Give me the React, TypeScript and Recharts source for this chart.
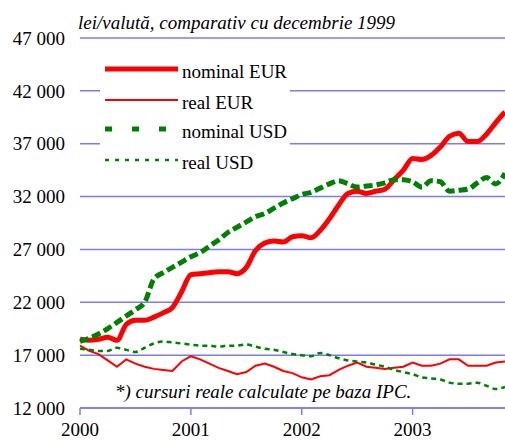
import { LineChart, Line, XAxis, YAxis, CartesianGrid, Legend } from 'recharts';

// monthly data, Jan 2000 - Nov 2003
const months = [
  '2000-01', '2000-02', '2000-03', '2000-04', '2000-05', '2000-06', '2000-07', '2000-08', '2000-09', '2000-10', '2000-11', '2000-12',
  '2001-01', '2001-02', '2001-03', '2001-04', '2001-05', '2001-06', '2001-07', '2001-08', '2001-09', '2001-10', '2001-11', '2001-12',
  '2002-01', '2002-02', '2002-03', '2002-04', '2002-05', '2002-06', '2002-07', '2002-08', '2002-09', '2002-10', '2002-11', '2002-12',
  '2003-01', '2003-02', '2003-03', '2003-04', '2003-05', '2003-06', '2003-07', '2003-08', '2003-09', '2003-10', '2003-11',
];

const nominalEur = [
  18500, 18400, 18500, 18700, 18400, 19900, 20300, 20300, 20600, 21000, 21500, 23000,
  24600, 24700, 24800, 24900, 24900, 24700, 25300, 26900, 27600, 27800, 27700, 28200,
  28300, 28100, 28800, 29900, 31200, 32300, 32500, 32300, 32500, 32700, 33600, 34500,
  35600, 35500, 35900, 36700, 37700, 38000, 37200, 37200, 37900, 39000, 40000,
];

const realEur = [
  17900, 17400, 17100, 16500, 15900, 16600, 16200, 15900, 15700, 15600, 15500, 16400,
  16900, 16600, 16200, 15800, 15500, 15200, 15400, 16000, 16200, 15900, 15500, 15300,
  14900, 14700, 15000, 15100, 15600, 16000, 16300, 15900, 15800, 15700, 15800, 15900,
  16300, 16000, 16000, 16200, 16600, 16600, 16000, 16000, 16000, 16300, 16400,
];

const nominalUsd = [
  18300, 18600, 19000, 19500, 20100, 20700, 21300, 22000, 24200, 24800, 25300, 25800,
  26300, 26700, 27300, 27900, 28600, 29100, 29600, 30100, 30400, 30900, 31400, 31800,
  32200, 32400, 32800, 33200, 33500, 33200, 32900, 33000, 33100, 33300, 33600, 33600,
  33400, 32900, 33500, 33400, 32500, 32600, 32700, 33300, 33800, 33200, 34200,
];

const realUsd = [
  17600, 17500, 17400, 17400, 17700, 17500, 17300, 17700, 18100, 18300, 18200, 18100,
  18000, 17900, 17900, 17800, 17900, 17900, 18000, 17800, 17600, 17500, 17300, 17100,
  17000, 16900, 17200, 17000, 16700, 16500, 16400, 16300, 16100, 15900, 15600, 15400,
  15200, 14900, 14800, 14700, 14400, 14300, 14300, 14400, 14100, 13800, 14000,
];

const yearTicks = ['2000-01', '2001-01', '2002-01', '2003-01'];
const valueTicks = [12000, 17000, 22000, 27000, 32000, 37000, 42000, 47000];

const data = months.map((m, i) => ({
  month: m,
  nominalEur: nominalEur[i],
  realEur: realEur[i],
  nominalUsd: nominalUsd[i],
  realUsd: realUsd[i],
}));

const FONT = '"Liberation Serif", "Times New Roman", Times, serif';
const GRID = '#7b7bf7';

const legendOrder = ['nominalEur', 'realEur', 'nominalUsd', 'realUsd'];
const legendLook: Record<string, { width: number; dash?: string }> = {
  nominalEur: { width: 5 },
  realEur: { width: 2 },
  nominalUsd: { width: 5, dash: '7 20' },
  realUsd: { width: 2.5, dash: '4 6' },
};

function ChartLegend({ payload }: any) {
  const rows = [17, 48, 77, 108];
  const items = [...(payload || [])].sort(
    (a: any, b: any) => legendOrder.indexOf(a.dataKey) - legendOrder.indexOf(b.dataKey)
  );
  return (
    <svg width={190} height={124} style={{ display: 'block' }}>
      {items.map((p: any, i: number) => {
        const look = legendLook[p.dataKey] || { width: 2 };
        const y = rows[i];
        return (
          <g key={p.dataKey}>
            <line
              x1={5}
              x2={78}
              y1={y}
              y2={y}
              stroke={p.color}
              strokeWidth={look.width}
              strokeDasharray={look.dash}
            />
            <text x={82} y={y + 9} style={{ fontFamily: FONT }} fontSize={19} fill='#000'>
              {p.value}
            </text>
          </g>
        );
      })}
    </svg>
  );
}

const fmtValue = (v: number) => {
  const s = String(v);
  return s.slice(0, s.length - 3) + ' ' + s.slice(-3);
};

export default function App() {
  return (
    <div
      style={{
        position: 'absolute',
        left: 0,
        top: 0,
        width: 505,
        height: 441,
        background: '#fff',
        fontFamily: FONT,
      }}
    >
      <LineChart width={505} height={441} data={data} margin={{ top: 38, right: 0, bottom: 0, left: 0 }}>
        <CartesianGrid vertical={false} stroke={GRID} strokeWidth={1.5} />
        <XAxis
          dataKey='month'
          ticks={yearTicks}
          interval={0}
          tickFormatter={(m: string) => m.slice(0, 4)}
          height={33}
          tickSize={7}
          tickMargin={8}
          stroke={GRID}
          strokeWidth={1.5}
          tick={{ fill: '#000', fontFamily: FONT, fontSize: 19 }}
        />
        <YAxis
          domain={[12000, 47000]}
          ticks={valueTicks}
          width={80}
          axisLine={false}
          tickLine={false}
          tickMargin={9}
          tickFormatter={fmtValue}
          tick={{ fill: '#000', fontFamily: FONT, fontSize: 19 }}
        />
        <Legend
          layout='vertical'
          align='center'
          verticalAlign='middle'
          content={<ChartLegend />}
          wrapperStyle={{ left: 100, top: 52, width: 190, height: 124, background: '#fff' }}
        />
        <Line
          dataKey='nominalEur'
          name='nominal EUR'
          type='monotone'
          stroke='#ff0000'
          strokeWidth={5}
          dot={false}
          isAnimationActive={false}
        />
        <Line
          dataKey='realEur'
          name='real EUR'
          type='linear'
          stroke='#ff0000'
          strokeWidth={2}
          dot={false}
          isAnimationActive={false}
        />
        <Line
          dataKey='nominalUsd'
          name='nominal USD'
          type='monotone'
          stroke='#008000'
          strokeWidth={5}
          strokeDasharray='9 4'
          dot={false}
          isAnimationActive={false}
        />
        <Line
          dataKey='realUsd'
          name='real USD'
          type='monotone'
          stroke='#008000'
          strokeWidth={2.5}
          strokeDasharray='5 4'
          dot={false}
          isAnimationActive={false}
        />
      </LineChart>
      <svg
        width={505}
        height={441}
        style={{ position: 'absolute', left: 0, top: 0, pointerEvents: 'none' }}
      >
        <text x={78} y={29} style={{ fontFamily: FONT }} fontStyle='italic' fontSize={19} fill='#000'>
          lei/valută, comparativ cu decembrie 1999
        </text>
        <text x={115} y={398} style={{ fontFamily: FONT }} fontStyle='italic' fontSize={19} fill='#000'>
          *) cursuri reale calculate pe baza IPC.
        </text>
      </svg>
    </div>
  );
}
